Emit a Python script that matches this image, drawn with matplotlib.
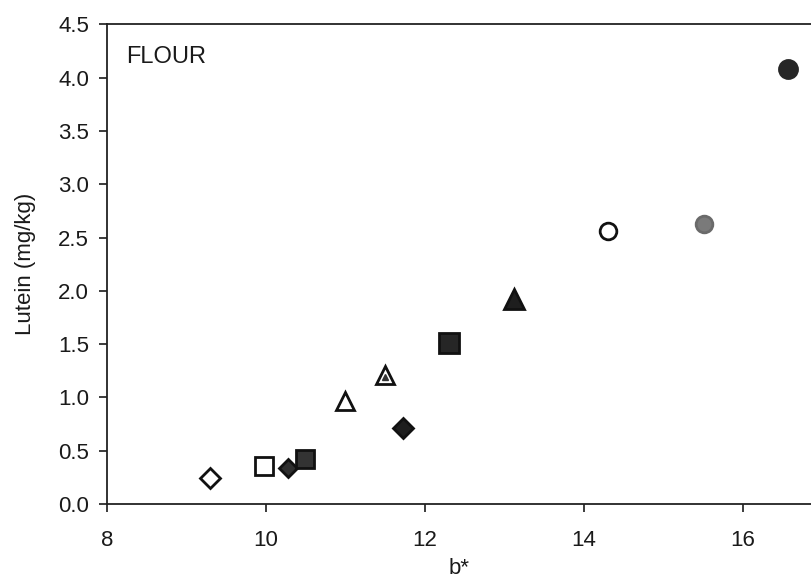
import matplotlib.pyplot as plt

plt.rcParams['font.family'] = ['Liberation Sans', 'DejaVu Sans']

# b* colour value vs lutein content for each flour sample
b_star = [9.30, 9.97, 10.28, 10.49, 10.99, 11.50, 11.72, 12.31, 13.12, 14.31, 15.51, 16.57]
lutein = [0.24, 0.36, 0.34, 0.42, 0.97, 1.21, 0.71, 1.51, 1.92, 2.56, 2.63, 4.08]
markers = ['D', 's', 'D', 's', '^', '^', 'D', 's', '^', 'o', 'o', 'o']
faces = ['white', 'white', '#2e2e2e', '#333333', 'white', 'white', '#1e1e1e', '#262626',
         '#1e1e1e', 'white', '#7a7a7a', '#262626']
edges = ['#111111'] * 10 + ['#6a6a6a', '#262626']
sizes = [10, 13, 9, 13, 13, 13, 10, 14, 14, 12, 12, 13]

fig = plt.figure(figsize=(8.11, 5.8), dpi=100)
ax = fig.add_axes([0.132, 0.131, 0.868, 0.827])

for x, y, m, fc, ec, s in zip(b_star, lutein, markers, faces, edges, sizes):
    ax.plot(x, y, marker=m, markersize=s, markerfacecolor=fc, markeredgecolor=ec,
            markeredgewidth=2.0, linestyle='none')

# small inner mark on the patterned triangle
ax.plot(b_star[5], lutein[5] - 0.02, marker='^', markersize=5, color='#333333', linestyle='none')

ax.set_xlim(8, 16.86)
ax.set_ylim(0, 4.5)
ax.set_xticks([8, 10, 12, 14, 16])
ax.set_yticks([0, 0.5, 1, 1.5, 2, 2.5, 3, 3.5, 4, 4.5])
ax.set_yticklabels(['0.0', '0.5', '1.0', '1.5', '2.0', '2.5', '3.0', '3.5', '4.0', '4.5'])

ax.spines['right'].set_visible(False)
for side in ['left', 'top', 'bottom']:
    ax.spines[side].set_linewidth(1.3)
    ax.spines[side].set_color('#222222')
ax.tick_params(direction='out', length=6, width=1.2, labelsize=16, colors='#1a1a1a')
ax.tick_params(axis='x', pad=13)
ax.tick_params(axis='y', pad=7)

ax.set_xlabel('b*', fontsize=16, labelpad=5, color='#1a1a1a')
ax.set_ylabel('Lutein (mg/kg)', fontsize=16, labelpad=16, color='#1a1a1a')
ax.text(0.027, 0.955, 'FLOUR', transform=ax.transAxes, fontsize=17, va='top', ha='left',
        color='#1a1a1a')

fig.savefig('out.png', dpi=100)
